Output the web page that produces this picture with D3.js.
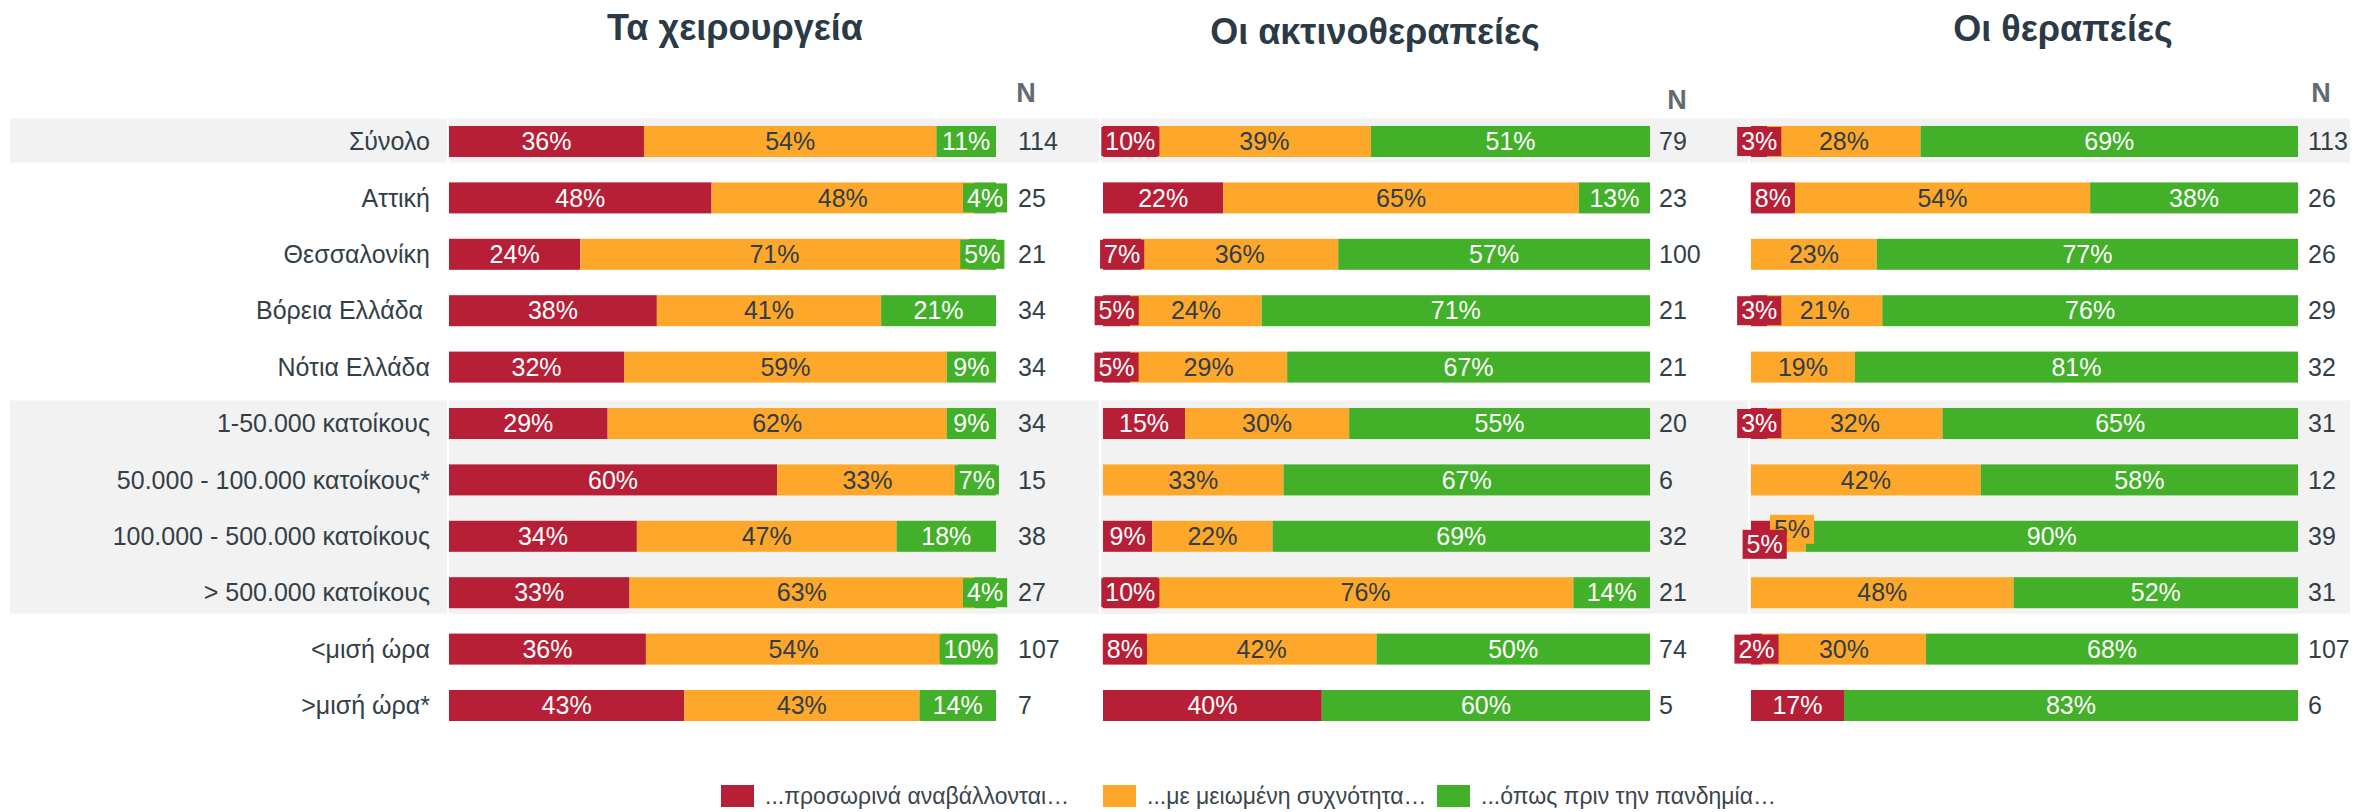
<!DOCTYPE html>
<html>
<head>
<meta charset="utf-8">
<script src="https://cdn.jsdelivr.net/npm/d3@7"></script>
<style>
  body { margin: 0; background: #fff; }
  svg { display: block; font-family: "Liberation Sans", Arial, sans-serif; }
</style>
</head>
<body>
<div id="chart"></div>
<script>
// chart data
const categories = [
  "Σύνολο", "Αττική", "Θεσσαλονίκη", "Βόρεια Ελλάδα ", "Νότια Ελλάδα",
  "1-50.000 κατοίκους", "50.000 - 100.000 κατοίκους*", "100.000 - 500.000 κατοίκους",
  "> 500.000 κατοίκους", "<μισή ώρα", ">μισή ώρα*"
];
const seriesNames = ["...προσωρινά αναβάλλονται…", "...με μειωμένη συχνότητα…", "...όπως πριν την πανδημία…"];
const panelTitles = ["Τα χειρουργεία", "Οι ακτινοθεραπείες", "Οι θεραπείες"];

const surgeryPostponed = [36, 48, 24, 38, 32, 29, 60, 34, 33, 36, 43];
const surgeryReduced   = [54, 48, 71, 41, 59, 62, 33, 47, 63, 54, 43];
const surgeryAsBefore  = [11, 4, 5, 21, 9, 9, 7, 18, 4, 10, 14];
const surgeryN         = [114, 25, 21, 34, 34, 34, 15, 38, 27, 107, 7];

const radioPostponed = [10, 22, 7, 5, 5, 15, 0, 9, 10, 8, 40];
const radioReduced   = [39, 65, 36, 24, 29, 30, 33, 22, 76, 42, 0];
const radioAsBefore  = [51, 13, 57, 71, 67, 55, 67, 69, 14, 50, 60];
const radioN         = [79, 23, 100, 21, 21, 20, 6, 32, 21, 74, 5];

const therapyPostponed = [3, 8, 0, 3, 0, 3, 0, 5, 0, 2, 17];
const therapyReduced   = [28, 54, 23, 21, 19, 32, 42, 5, 48, 30, 0];
const therapyAsBefore  = [69, 38, 77, 76, 81, 65, 58, 90, 52, 68, 83];
const therapyN         = [113, 26, 26, 29, 32, 31, 12, 39, 31, 107, 6];

// shaded row groups (first, last index)
const shadedGroups = [[0, 0], [5, 8]];

// layout
const width = 2372, height = 812;
const colors = ["#b71f36", "#fda82b", "#43b02a"];
const textColors = ["#ffffff", "#333d45", "#ffffff"];
const panels = [
  { title: panelTitles[0], series: [surgeryPostponed, surgeryReduced, surgeryAsBefore], n: surgeryN,
    x0: 449, titleX: 735, titleY: 40, nX: 1018, nHeadX: 1026, nHeadY: 102, bgX: 449, bgW: 650 },
  { title: panelTitles[1], series: [radioPostponed, radioReduced, radioAsBefore], n: radioN,
    x0: 1103, titleX: 1375, titleY: 44, nX: 1659, nHeadX: 1677, nHeadY: 109, bgX: 1101, bgW: 647 },
  { title: panelTitles[2], series: [therapyPostponed, therapyReduced, therapyAsBefore], n: therapyN,
    x0: 1751, titleX: 2063, titleY: 41, nX: 2308, nHeadX: 2321, nHeadY: 102, bgX: 1750, bgW: 600 }
];
const barWidth = 547;

const svg = d3.select("#chart").append("svg")
  .attr("width", width)
  .attr("height", height);

const y = d3.scaleBand()
  .domain(categories)
  .range([113.3, 733.7])
  .paddingInner(0.45)
  .paddingOuter(0.225);

const rowCenter = c => y(c) + y.bandwidth() / 2;

// gray background bands
shadedGroups.forEach(([a, b]) => {
  const top = rowCenter(categories[a]) - 23;
  const bottom = rowCenter(categories[b]) + 21;
  svg.append("rect")
    .attr("x", 10).attr("y", top)
    .attr("width", 437).attr("height", bottom - top)
    .attr("fill", "#f2f2f2");
  panels.forEach(p => {
    svg.append("rect")
      .attr("x", p.bgX).attr("y", top)
      .attr("width", p.bgW).attr("height", bottom - top)
      .attr("fill", "#f2f2f2");
  });
});

// category labels
svg.append("g").selectAll("text")
  .data(categories)
  .join("text")
  .attr("x", 430)
  .attr("y", d => rowCenter(d))
  .attr("dy", "0.35em")
  .attr("text-anchor", "end")
  .attr("font-size", 25)
  .attr("fill", "#333f48")
  .style("white-space", "pre")
  .text(d => d);

panels.forEach(p => {
  const x = d3.scaleLinear().domain([0, 100]).range([p.x0, p.x0 + barWidth]);
  const g = svg.append("g");

  g.append("text")
    .attr("x", p.titleX).attr("y", p.titleY)
    .attr("text-anchor", "middle")
    .attr("font-size", 36).attr("font-weight", "bold")
    .attr("fill", "#2b3a45")
    .text(p.title);

  g.append("text")
    .attr("x", p.nHeadX).attr("y", p.nHeadY)
    .attr("text-anchor", "middle")
    .attr("font-size", 27).attr("font-weight", "bold")
    .attr("fill", "#626b71")
    .text("N");

  // stacked segments, normalised so each row fills the bar
  const rows = categories.map((c, i) => {
    const vals = p.series.map(s => s[i]);
    const total = d3.sum(vals);
    let acc = 0;
    const segs = vals.map((v, k) => {
      const s = { cat: c, k: k, v: v, start: acc / total * 100, end: (acc + v) / total * 100 };
      acc += v;
      return s;
    });
    return segs;
  });

  rows.forEach(segs => {
    g.selectAll(null)
      .data(segs.filter(s => s.v > 0))
      .join("rect")
      .attr("x", s => x(s.start))
      .attr("y", s => y(s.cat))
      .attr("width", s => x(s.end) - x(s.start))
      .attr("height", y.bandwidth())
      .attr("fill", s => colors[s.k]);
  });

  // value labels with a box when the segment is too narrow
  rows.forEach(segs => {
    const lg = g.append("g");
    const labels = segs.filter(s => s.v > 0).map(s => {
      const cx = (x(s.start) + x(s.end)) / 2;
      const t = lg.append("text")
        .attr("font-size", 25)
        .attr("text-anchor", "middle")
        .text(s.v + "%");
      const tw = t.node().getComputedTextLength();
      t.remove();
      return { s: s, cx: cx, tw: tw, segW: x(s.end) - x(s.start), dy: 0 };
    });
    // push overlapping labels apart vertically
    for (let i = 1; i < labels.length; i++) {
      const a = labels[i - 1], b = labels[i];
      if (a.cx + (a.tw + 8) / 2 > b.cx - (b.tw + 8) / 2) {
        a.dy = 8;
        b.dy = -7;
      }
    }
    labels.slice().reverse().forEach(l => {
      const cy = rowCenter(l.s.cat) + l.dy;
      const boxW = l.tw + 8;
      if (boxW > l.segW || l.dy !== 0) {
        lg.append("rect")
          .attr("x", l.cx - boxW / 2)
          .attr("y", cy - 14.5)
          .attr("width", boxW)
          .attr("height", 29)
          .attr("fill", colors[l.s.k]);
      }
      lg.append("text")
        .attr("x", l.cx).attr("y", cy)
        .attr("dy", "0.35em")
        .attr("text-anchor", "middle")
        .attr("font-size", 25)
        .attr("fill", textColors[l.s.k])
        .text(l.s.v + "%");
    });
  });

  // N column
  g.selectAll(null)
    .data(p.n)
    .join("text")
    .attr("x", p.nX)
    .attr("y", (d, i) => rowCenter(categories[i]))
    .attr("dy", "0.35em")
    .attr("font-size", 25)
    .attr("fill", "#333f48")
    .text(d => d);
});

// legend
const legendX = [721, 1103, 1437];
const legend = svg.append("g").selectAll("g")
  .data(seriesNames)
  .join("g")
  .attr("transform", (d, i) => `translate(${legendX[i]},785)`);
legend.append("rect")
  .attr("width", 33).attr("height", 22)
  .attr("fill", (d, i) => colors[i]);
legend.append("text")
  .attr("x", 44).attr("y", 11)
  .attr("dy", "0.35em")
  .attr("font-size", 23)
  .attr("fill", "#3a454d")
  .text(d => d);
</script>
</body>
</html>
